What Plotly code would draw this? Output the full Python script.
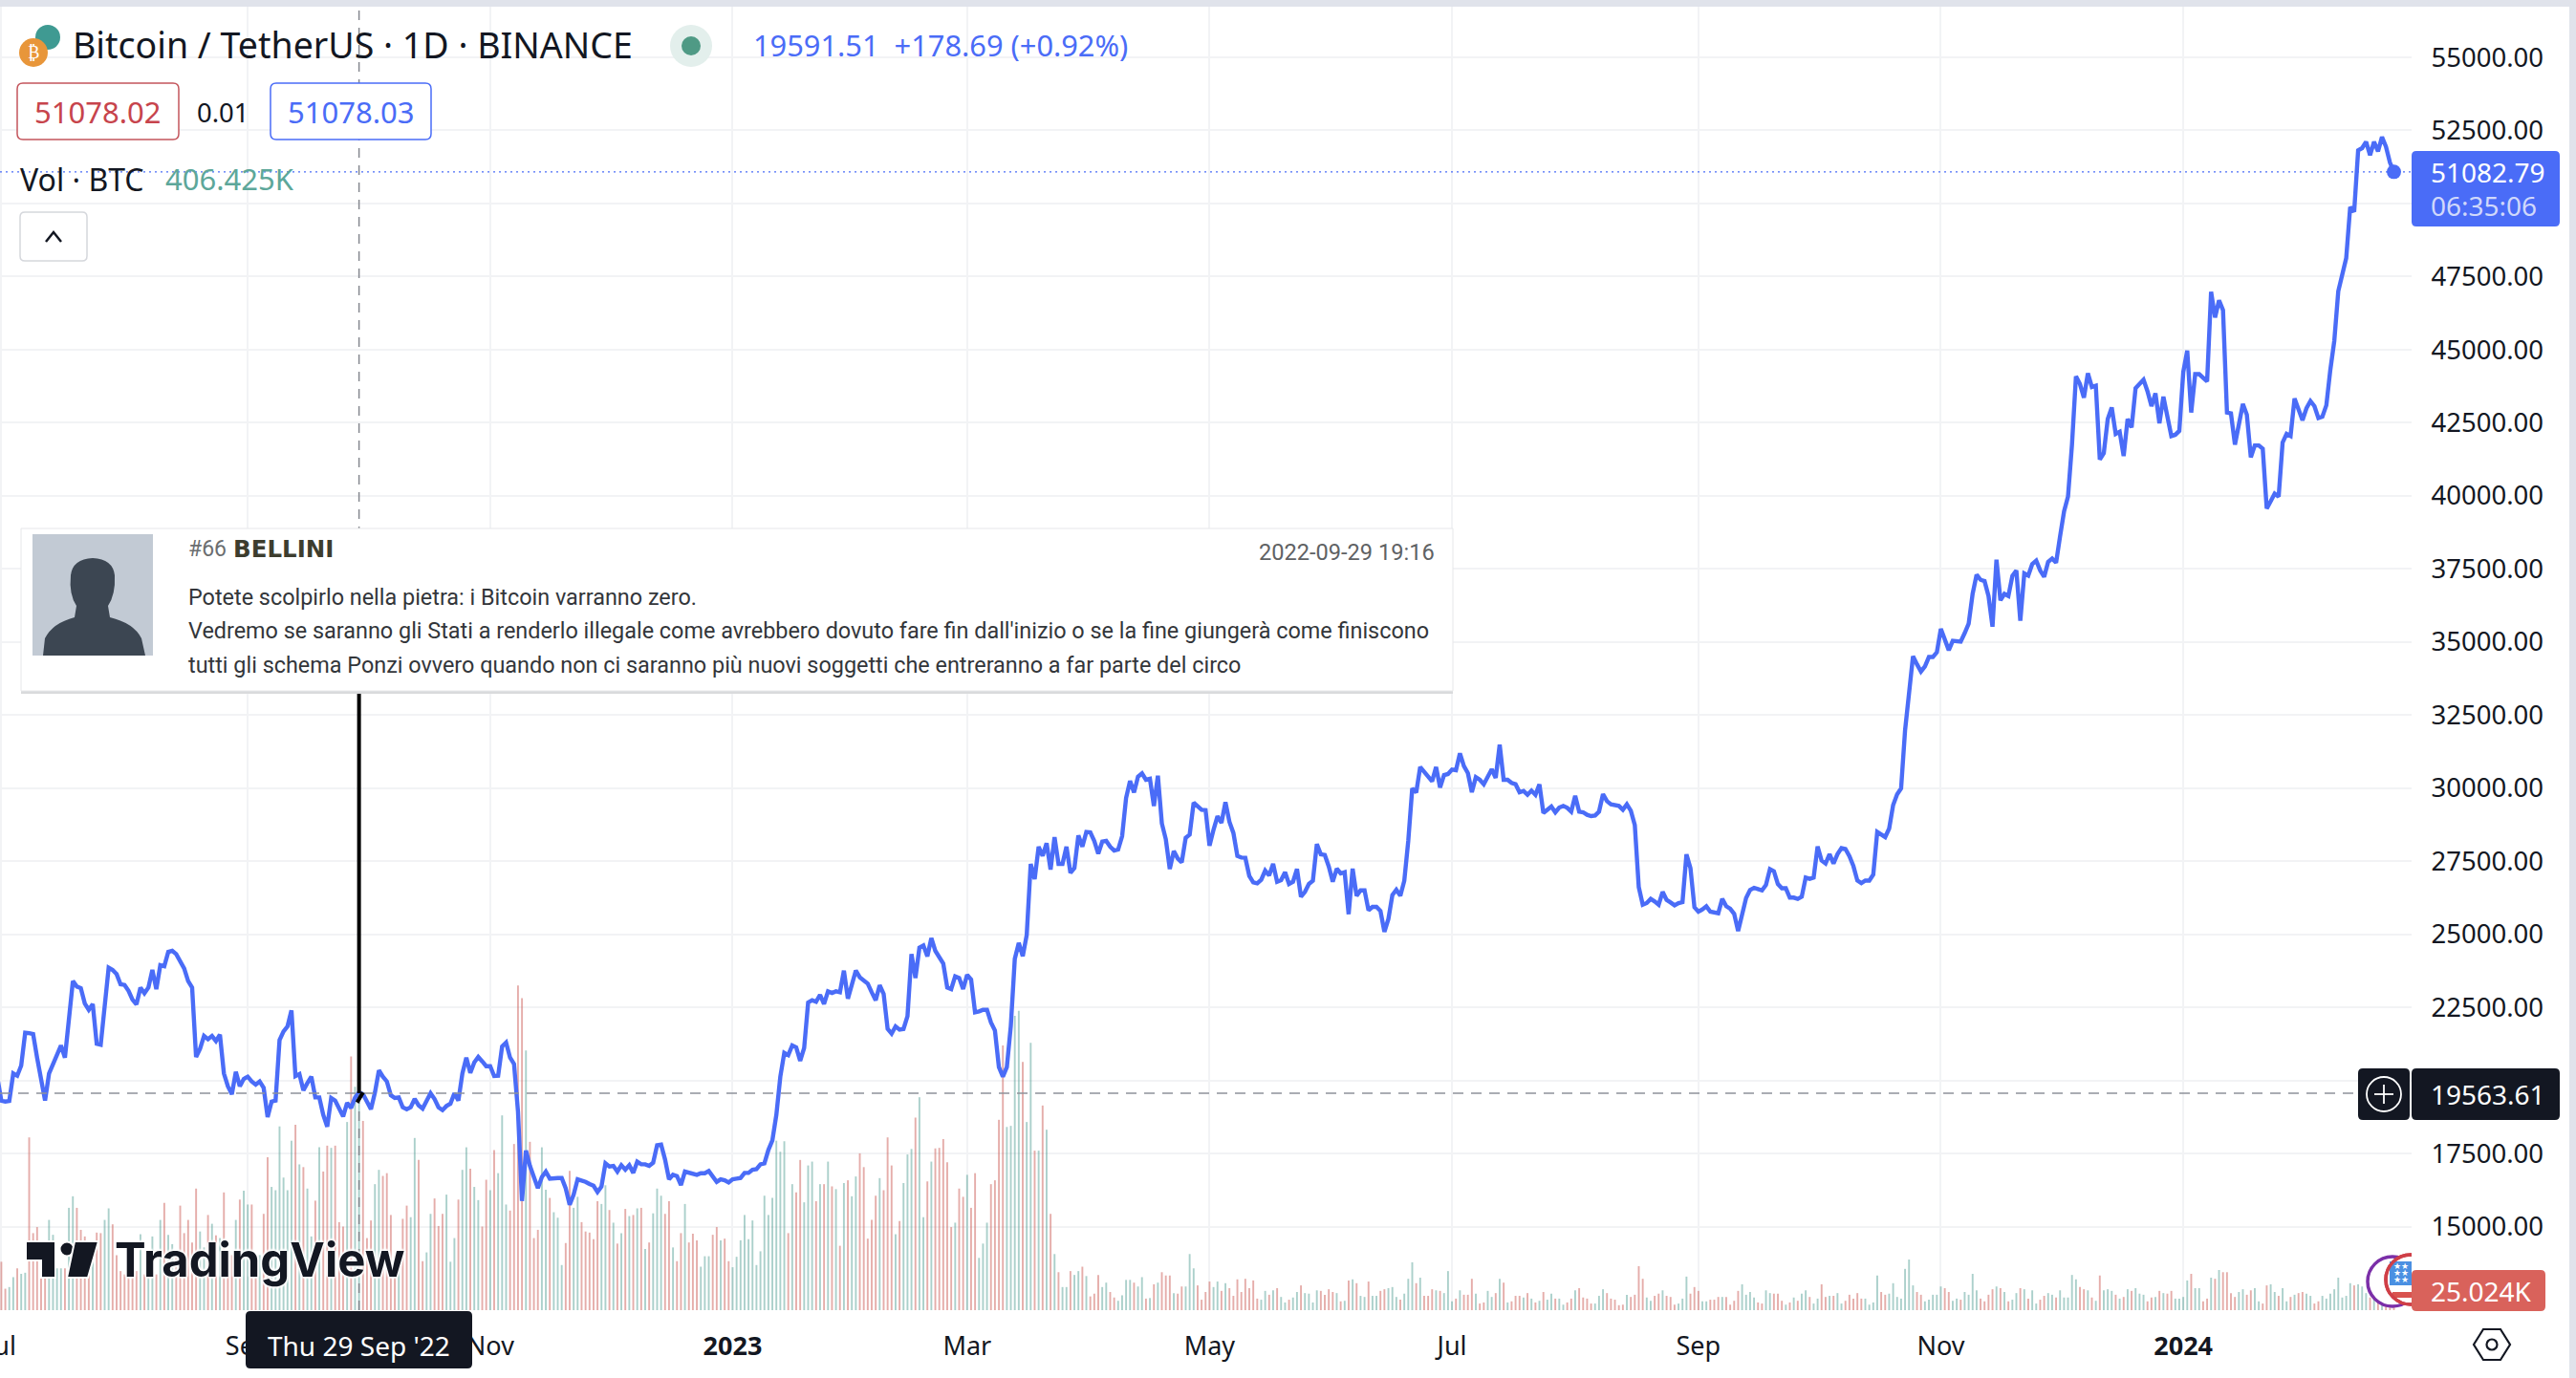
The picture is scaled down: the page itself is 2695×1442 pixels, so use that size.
import pandas as pd
import plotly.graph_objects as go

# ---------- data ----------
START_DATE = "2022-06-30"
closes = [20100,
 19310,19280,19300,20240,20163,20510,21634,21620,21590,20780,
 20020,19313,20240,20566,20806,21198,20780,22092,23400,23214,
 23160,22636,22418,22615,21253,21220,22528,23857,23780,23640,
 23290,23269,23070,22767,22604,23180,22985,23180,23780,23127,
 23944,23910,24400,24435,24326,24053,23835,23400,23180,20806,
 21090,21525,21416,21525,21351,21569,20240,19803,19531,20294,
 19803,20054,20130,19967,19858,19967,19749,18746,19280,19313,
 21384,21678,21852,22397,20152,20218,19662,19912,20130,19422,
 19422,18823,18420,19400,19313,19040,18768,19237,19063,19412.82,
 19591.51,19531,19259,19019,19585,20348,20130,19967,19498,19400,
 19422,19084,19019,19084,19367,19150,19040,19313,19564,19367,
 19084,18986,19128,19204,19564,19313,20239,20784,20261,20620,
 20806,20653,20490,20490,20152,20163,21165,21296,20784,20566,
 18932,15880,17602,17079,16643,16316,16698,16883,16643,16665,
 16665,16665,16316,15750,16098,16621,16589,16534,16458,16403,
 16186,16371,17166,17057,17079,16883,17101,16948,17101,16839,
 17221,17134,17134,17079,17188,17788,17809,17297,16621,16774,
 16730,16425,16883,16839,16818,16774,16828,16828,16905,16698,
 16534,16621,16589,16512,16621,16643,16665,16839,16839,16948,
 16970,17134,17166,17624,17951,18823,20130,20948,20871,21198,
 21133,20675,21111,22669,22746,22691,22931,22615,23051,22996,
 23051,23018,23759,22800,23236,23759,23530,23399,23312,23018,
 22746,23258,22964,21765,21601,21852,21743,21765,22201,24326,
 23508,24544,24620,24249,24870,24435,24184,23999,23181,23127,
 23563,23508,23127,23617,23454,22331,22364,22419,22419,21983,
 21710,20457,20130,20457,21874,24162,24707,24250,24980,27410,
 26887,27998,27682,28118,27214,28325,27410,27410,27998,27105,
 27268,28380,27998,28500,28489,28194,27758,28172,28194,27998,
 27867,27900,28358,29665,30243,29851,30396,30505,30287,30320,
 29393,30428,28794,28249,27235,27846,27595,27464,28303,28412,
 29502,29360,29262,29251,28031,28576,29044,28816,29524,28848,
 28467,27682,27628,27617,27000,26778,26745,26865,27181,27017,
 27410,26799,26854,27126,26723,26799,27235,26287,26451,26723,
 26832,28085,27737,27715,27323,26799,27246,27083,27126,25688,
 27246,26320,26505,26505,25819,25939,25939,25797,25089,25525,
 26342,26527,26320,26832,28194,29992,29851,30722,30570,30428,
 30232,30722,30025,30450,30483,30635,30614,31191,30755,30515,
 29862,30374,30287,30134,30428,30646,30352,31485,30287,30287,
 30178,30134,29862,29905,29774,29916,29774,30134,29153,29262,
 29371,29175,29339,29393,29328,29197,29742,29197,29175,29088,
 29044,29066,29197,29796,29556,29447,29415,29393,29262,29447,
 29229,28739,26614,26015,26070,26211,26124,26015,26451,26178,
 26091,25993,26070,26102,27737,27268,25928,25775,25851,25961,
 25775,25742,25720,26212,25964,25877,25701,25117,25701,26241,
 26518,26592,26547,26503,26693,27233,27160,26722,26576,26576,
 26256,26256,26212,26285,26941,26898,26941,28007,27525,27423,
 27744,27423,27744,27949,27919,27671,27335,26839,26752,26839,
 26839,27043,28503,28415,28328,28620,29422,29787,29991,31976,
 33436,34516,34238,33990,34166,34487,34487,34647,35450,35114,
 34720,35041,35041,35012,35304,35625,36646,37303,37128,37084,
 36573,35523,37814,36427,36646,36573,37259,37449,35727,37347,
 37274,37668,37785,37449,37230,37741,37857,37712,38616,39463,
 39974,41754,44089,43827,43360,44191,43724,43768,41243,41462,
 42629,43024,42119,42192,41360,42630,42338,43681,43827,43972,
 43578,43067,43505,42484,43389,42703,42046,42090,42221,44235,
 44965,42849,44162,44162,44016,43914,46979,46103,46687,46351,
 42849,42820,41754,42484,43141,42776,41316,41725,41725,41608,
 39565,39813,40076,39974,41827,42119,42046,43330,42922,42586,
 42995,43243,43068,42659,42708,43097,44308,45300,47000,47535,
 48134,49878,49714,51818,51894,52112,51654,52112,51785,52275,
 51948,51403,51082.79]

volumes_k = [70,
 88,39,42,60,76,66,68,314,140,151,
 65,82,164,137,76,76,76,186,207,186,
 146,134,100,100,141,140,164,185,156,100,
 71,65,65,71,71,138,65,71,134,65,
 164,195,137,120,100,190,140,164,123,221,
 143,114,173,157,136,131,214,100,100,164,
 201,217,192,192,100,100,175,278,224,218,
 334,241,218,308,337,265,260,221,134,199,
 296,252,299,295,299,160,152,342,461,406,
 406.425,344,131,163,229,255,244,249,173,100,
 100,166,190,169,313,273,89,105,175,203,
 153,175,210,88,131,201,255,296,257,224,
 200,152,237,218,291,249,354,192,181,302,
 590,567,472,306,131,146,296,219,204,178,
 168,82,122,253,186,206,160,143,141,129,
 198,193,227,182,159,121,140,184,171,173,
 185,186,111,123,176,221,208,175,198,114,
 89,140,193,123,139,127,79,98,98,137,
 151,127,130,89,78,97,127,173,129,163,
 82,107,208,173,204,308,288,307,140,229,
 214,273,196,263,270,198,229,229,270,225,
 220,117,231,236,207,243,285,260,130,164,
 208,240,218,314,263,138,162,231,283,293,
 350,387,169,234,270,294,295,311,269,151,
 159,221,206,246,186,249,95,121,159,229,
 236,346,481,333,335,535,544,451,342,486,
 290,290,372,328,175,102,69,42,42,71,
 64,71,79,62,25,30,64,42,50,33,
 23,17,27,55,55,50,43,60,21,22,
 47,50,69,63,63,31,30,43,43,102,
 76,45,19,33,52,42,52,35,49,40,
 26,56,33,57,40,54,21,19,35,28,
 36,40,24,14,19,23,33,45,31,30,
 14,36,35,28,38,33,31,16,17,54,
 56,49,26,24,52,26,26,35,38,40,
 42,24,19,30,57,87,49,59,26,26,
 38,36,35,31,71,16,21,36,28,28,
 57,30,12,14,35,24,31,57,50,14,
 16,26,26,23,31,21,14,17,33,19,
 30,21,21,10,14,21,36,40,23,21,
 12,12,26,38,31,21,19,9,10,28,
 24,28,80,57,23,17,26,30,36,26,
 24,10,12,21,61,30,42,35,16,16,
 19,19,24,24,24,10,17,35,47,28,
 33,23,14,12,36,31,30,30,17,10,
 14,23,17,30,36,24,12,21,47,24,
 26,26,31,12,17,28,21,31,21,21,
 10,14,63,33,28,30,49,24,21,75,
 92,45,33,28,16,19,28,28,43,40,
 33,17,21,19,33,28,66,36,21,16,
 28,38,43,40,33,16,19,31,40,38,
 21,36,12,19,26,31,28,23,36,23,
 23,64,56,42,38,36,23,17,63,36,
 38,35,28,21,24,38,35,40,30,28,
 16,23,24,35,31,30,35,21,21,24,
 54,66,40,40,16,21,59,57,73,69,
 69,31,24,33,38,28,36,40,16,12,
 45,47,33,26,40,16,24,28,31,33,
 30,26,12,16,26,21,30,38,59,23,
 26,49,45,47,43,31,23,20,22,22,
 25,25,25.024]

price_ticks = [15000,17500,20000,22500,25000,27500,30000,32500,35000,37500,40000,
               42500,45000,47500,50000,52500,55000]
price_labels_hidden = [20000, 50000]
month_ticks = ["2022-07-01","2022-09-01","2022-11-01","2023-01-01","2023-03-01","2023-05-01",
               "2023-07-01","2023-09-01","2023-11-01","2024-01-01"]
month_labels = ["Jul","Sep","Nov","<b>2023</b>","Mar","May","Jul","Sep","Nov","<b>2024</b>"]

LAST_PRICE = 51082.79
CROSS_PRICE = 19563.61
CROSS_DATE = "2022-09-29"
TITLE = "Bitcoin / TetherUS · 1D · BINANCE"
QUOTE = "19591.51  +178.69 (+0.92%)"
BID, SPREAD, ASK = "51078.02", "0.01", "51078.03"
COMMENT = ["Potete scolpirlo nella pietra: i Bitcoin varranno zero.",
           "Vedremo se saranno gli Stati a renderlo illegale come avrebbero dovuto fare fin dall'inizio o se la fine giungerà come finiscono",
           "tutti gli schema Ponzi ovvero quando non ci saranno più nuovi soggetti che entreranno a far parte del circo"]

# ---------- geometry / styling ----------
W, H = 2695, 1442
L, T, PW, PH = 0, 7, 2523, 1364
BLUE = "#4a6cf7"
INK = "#131722"
GRID = "#f2f3f5"
UI = "Noto Sans"
px = lambda x: x / PW
py = lambda y: (T + PH - y) / PH

n = min(len(closes), len(volumes_k))
dates = pd.date_range(START_DATE, periods=n)
closes = closes[:n]; volumes_k = volumes_k[:n]
bar_colors = ["rgba(60,145,135,0.43)" if i == 0 or closes[i] >= closes[i-1] else "rgba(200,80,75,0.47)"
              for i in range(n)]

fig = go.Figure()
fig.add_trace(go.Bar(x=dates, y=volumes_k, marker=dict(color=bar_colors, line=dict(width=0)),
                     width=0.46 * 86400000, yaxis="y", showlegend=False, hoverinfo="skip"))
fig.add_trace(go.Scatter(x=dates, y=closes, mode="lines", line=dict(color=BLUE, width=4.4, shape="linear"),
                         yaxis="y2", showlegend=False, hoverinfo="skip"))
fig.add_trace(go.Scatter(x=[dates[-1]], y=[closes[-1]], mode="markers", marker=dict(color=BLUE, size=15),
                         yaxis="y2", showlegend=False, hoverinfo="skip"))

shapes, annos = [], []

def rect(x0, y0, x1, y1, fill, line=None, lw=0):
    shapes.append(dict(type="rect", xref="paper", yref="paper", x0=px(x0), x1=px(x1), y0=py(y0), y1=py(y1),
                       fillcolor=fill, line=dict(color=line or fill, width=lw)))

def rrect(x0, y0, x1, y1, r, fill, line=None, lw=0):
    def P(x, y): return f"{px(x)} {py(y)}"
    d = (f"M {P(x0+r,y0)} L {P(x1-r,y0)} Q {P(x1,y0)} {P(x1,y0+r)} L {P(x1,y1-r)} Q {P(x1,y1)} {P(x1-r,y1)} "
         f"L {P(x0+r,y1)} Q {P(x0,y1)} {P(x0,y1-r)} L {P(x0,y0+r)} Q {P(x0,y0)} {P(x0+r,y0)} Z")
    shapes.append(dict(type="path", xref="paper", yref="paper", path=d, fillcolor=fill,
                       line=dict(color=line or fill, width=lw)))

def circle(cx, cy, r, fill, line=None, lw=0):
    shapes.append(dict(type="circle", xref="paper", yref="paper", x0=px(cx-r), x1=px(cx+r), y0=py(cy+r), y1=py(cy-r),
                       fillcolor=fill, line=dict(color=line or fill, width=lw)))

def poly(points, fill=None, line=None, lw=0, close=True):
    d = "M " + " L ".join(f"{px(x)} {py(y)}" for x, y in points) + (" Z" if close else "")
    shapes.append(dict(type="path", xref="paper", yref="paper", path=d,
                       fillcolor=fill or "rgba(0,0,0,0)", line=dict(color=line or "rgba(0,0,0,0)", width=lw)))

def text(x, y, s, size, color=INK, anchor="left", family=UI, **font):
    annos.append(dict(x=px(x), y=py(y), xref="paper", yref="paper", text=s, showarrow=False, xanchor=anchor,
                      yanchor="middle", align=anchor, borderpad=0,
                      font=dict(size=size, color=color, family=family, **font)))

# page frame
rect(0, 0, W, 7, "#e0e3eb")
rect(2688, 0, W, H, "#e0e3eb")

# crosshair and price lines (drawn on the data axes)
shapes.append(dict(type="line", xref="x", yref="paper", x0=CROSS_DATE, x1=CROSS_DATE, y0=0, y1=1,
                   line=dict(color="#85888f", width=1.5, dash="10px,8px")))
shapes.append(dict(type="line", xref="paper", yref="y2", x0=0, x1=1, y0=CROSS_PRICE, y1=CROSS_PRICE,
                   line=dict(color="#8f929b", width=1.5, dash="11px,8px")))
shapes.append(dict(type="line", xref="paper", yref="y2", x0=0, x1=1, y0=LAST_PRICE, y1=LAST_PRICE,
                   line=dict(color=BLUE, width=1.3, dash="2px,4px")))

# black marker line from the comment down to the price
shapes.append(dict(type="line", xref="x", yref="y2", x0=CROSS_DATE, x1=CROSS_DATE, y0=CROSS_PRICE, y1=34000,
                   line=dict(color="#000000", width=4)))
shapes.append(dict(type="line", xref="x", yref="y2", x0="2022-09-28T12:00", x1="2022-09-30T00:00", y0=19250, y1=19590,
                   line=dict(color="#000000", width=4)))

# comment card
rect(22, 556, 1520, 726, "#d9dadc")
rect(22, 553, 1520, 723, "#ffffff", "#e6e7e9", 1)
rect(34, 559, 160, 686, "#c2cad4")
d = (f"M {px(45)} {py(686)} L {px(47)} {py(668)} Q {px(55)} {py(652)} {px(78)} {py(646)} L {px(80)} {py(634)} "
     f"Q {px(72)} {py(622)} {px(74)} {py(602)} Q {px(76)} {py(585)} {px(97)} {py(584)} Q {px(118)} {py(585)} {px(120)} {py(602)} "
     f"Q {px(121)} {py(622)} {px(113)} {py(634)} L {px(115)} {py(646)} Q {px(140)} {py(652)} {px(148)} {py(668)} L {px(152)} {py(686)} Z")
shapes.append(dict(type="path", xref="paper", yref="paper", path=d, fillcolor="#3c4652", line=dict(width=0)))
text(196, 574, "#66", 23, "#6b6e70", family="Roboto")
text(243, 574, "<b>BELLINI</b>", 24.5, "#3d3d2e", family="DejaVu Sans")
text(1502, 578, "2022-09-29 19:16", 23.6, "#5f6264", anchor="right", family="Roboto")
for yy, line in zip((625, 660, 696), COMMENT):
    text(196, yy, line, 23.4, "#33363a", family="Roboto")

# header
circle(50, 39, 13, "#3f9a92")
circle(35, 55, 15, "#e8963a")
text(35, 55, "₿", 18, "#ffffff", anchor="center", family="DejaVu Sans")
text(75, 47, TITLE, 37.5, INK)
circle(723, 48, 22, "#e3efec")
circle(723, 48, 10, "#4f9a85")
text(787, 47, QUOTE, 30.8, BLUE)
rrect(18, 87, 187, 146, 6, "#ffffff", "#c4555c", 1.5)
text(102, 117, BID, 31, "#c7444c", anchor="center")
text(234, 117, SPREAD, 27.5, INK, anchor="center")
rrect(283, 87, 451, 146, 6, "#ffffff", BLUE, 1.5)
text(367, 117, ASK, 31, BLUE, anchor="center")
text(20, 187, "Vol · BTC", 32, INK)
text(172, 187, "406.425K", 31, "#5da79a")
rrect(21, 222, 91, 273, 5, "#ffffff", "#d5d7dc", 1.5)
poly([(48, 253), (56, 243), (64, 253)], line=INK, lw=2.5, close=False)

# TradingView logo
poly([(27, 1299), (58, 1299), (58, 1337), (43, 1337), (43, 1319), (27, 1319)], fill=INK, line="#ffffff", lw=2)
circle(70, 1307, 7.5, INK, "#ffffff", 2)
poly([(78, 1299), (103, 1299), (92, 1337), (70, 1337)], fill=INK, line="#ffffff", lw=2)
text(119, 1318, "<b>TradingView</b>", 49, INK, family="Inter",
     shadow="2px 0 2px #fff, -2px 0 2px #fff, 0 2px 2px #fff, 0 -2px 2px #fff")

# date label
rrect(257, 1372, 494, 1432, 5, INK)
text(375, 1408, "Thu 29 Sep '22", 28, "#ffffff", anchor="center")

# flag badge
circle(2503, 1341, 26, "#ffffff", "#7b2fa8", 3.5)
circle(2522, 1339, 26, "#ffffff", "#cf3f47", 3.5)
rect(2500, 1320, 2523, 1345, "#4a90e2")
rect(2500, 1345, 2523, 1352, "#ffffff")
rect(2503, 1352, 2523, 1358, "#d9534f")
circle(2522, 1339, 26, "rgba(0,0,0,0)", "#cf3f47", 3.5)
for yy in (1325, 1332, 1339):
    text(2512, yy, "★★", 9, "#ffffff", anchor="center", family="DejaVu Sans")
rect(2523, 1300, 2688, 1329, "#ffffff")
rect(2523, 1372, 2688, 1385, "#ffffff")

# right-hand price labels
rrect(2523, 158, 2678, 237, 5, BLUE)
text(2542, 180, f"{LAST_PRICE:.2f}", 28, "#ffffff")
text(2542, 215, "06:35:06", 28, "#d0d8fb")
rrect(2467, 1118, 2521, 1172, 5, INK)
circle(2494, 1145, 18, INK, "#ffffff", 1.8)
poly([(2484, 1145), (2504, 1145)], line="#ffffff", lw=1.8, close=False)
poly([(2494, 1135), (2494, 1155)], line="#ffffff", lw=1.8, close=False)
rrect(2523, 1118, 2678, 1172, 5, INK)
text(2542, 1145, f"{CROSS_PRICE:.2f}", 28, "#ffffff")
rrect(2523, 1329, 2663, 1372, 5, "#d9625b")
text(2542, 1351, "25.024K", 28, "#ffffff")

# settings icon
poly([(2588, 1407), (2598, 1391), (2616, 1391), (2626, 1407), (2616, 1423), (2598, 1423)], line=INK, lw=2.2)
circle(2607, 1407, 5.5, "#ffffff", INK, 2.2)

fig.update_layout(
    width=W, height=H, margin=dict(l=L, r=W - PW, t=T, b=H - T - PH, pad=0), autosize=False,
    paper_bgcolor="#ffffff", plot_bgcolor="#ffffff", showlegend=False, barmode="overlay",
    font=dict(family=UI, size=28, color=INK),
    xaxis=dict(type="date", range=["2022-06-30 15:54", "2024-02-27 10:48"], tickmode="array",
               tickvals=month_ticks, ticktext=month_labels, showgrid=True, gridcolor=GRID, gridwidth=1.5,
               zeroline=False, showline=False, ticks="outside", ticklen=14, tickcolor="rgba(0,0,0,0)",
               ticklabeloverflow="allow", tickfont=dict(size=27, color=INK, family=UI), automargin=False),
    yaxis=dict(range=[0, 1364 * 1.737], visible=False, showgrid=False, fixedrange=True),
    yaxis2=dict(overlaying="y", side="right", range=[12144, 56733], tickmode="array",
                tickvals=price_ticks,
                ticktext=["" if v in price_labels_hidden else f"{v:.2f}" for v in price_ticks],
                showgrid=True, gridcolor=GRID, gridwidth=1.5, zeroline=False, showline=False,
                ticks="outside", ticklen=14, tickcolor="rgba(0,0,0,0)",
                tickfont=dict(size=27.5, color=INK, family=UI), automargin=False),
    shapes=shapes, annotations=annos,
)
fig.write_html("out.html", config=dict(displayModeBar=False),
               post_script="document.body.style.margin='0';document.documentElement.style.overflow='hidden';")
